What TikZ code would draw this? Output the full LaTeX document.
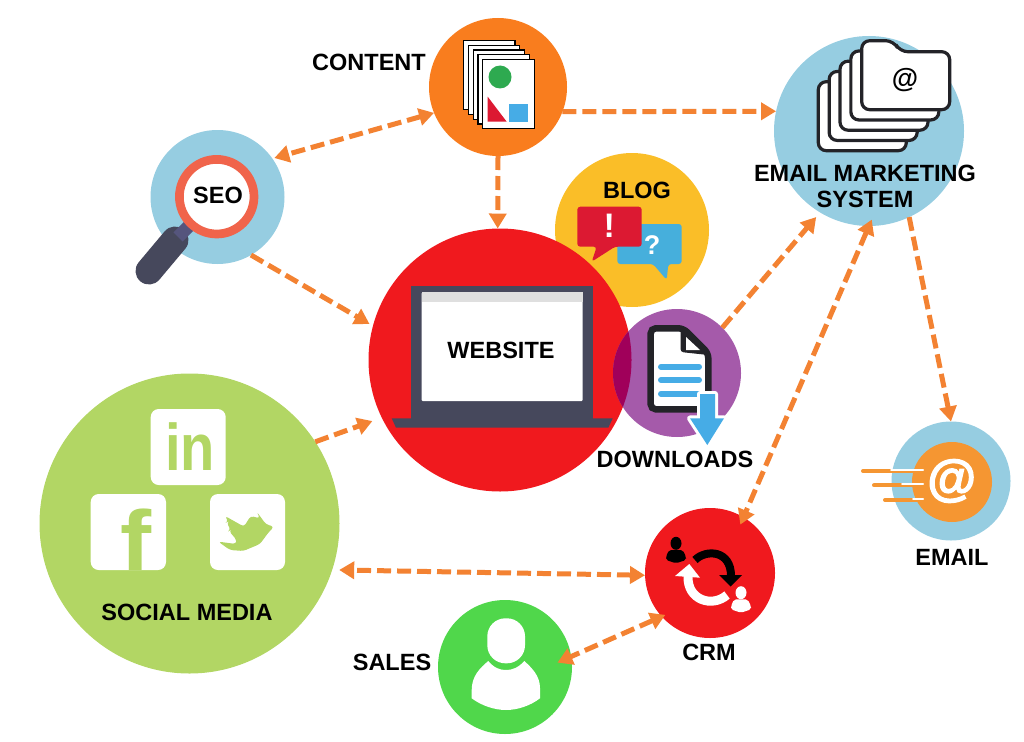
\documentclass[tikz,border=0pt]{standalone}
\usepackage{fontspec}
\setmainfont{Liberation Sans}
\newfontfamily\heavyfont[FakeBold=2.5]{Liberation Sans}
\usetikzlibrary{arrows.meta,calc}
\definecolor{flowOrange}{RGB}{243,130,50}
\definecolor{discOrange}{RGB}{249,125,30}
\definecolor{discBlue}{RGB}{150,205,225}
\definecolor{discYellow}{RGB}{250,190,40}
\definecolor{discRed}{RGB}{240,25,30}
\definecolor{discPurple}{RGB}{165,90,170}
\definecolor{discOlive}{RGB}{178,214,100}
\definecolor{discGreen}{RGB}{80,215,75}
\definecolor{overlapRed}{RGB}{160,0,90}
\definecolor{slate}{RGB}{70,72,92}
\definecolor{neckSlate}{RGB}{85,85,125}
\definecolor{inkBlack}{RGB}{35,35,40}
\definecolor{iconBlue}{RGB}{70,172,230}
\definecolor{iconRed}{RGB}{220,25,50}
\definecolor{iconGreen}{RGB}{46,170,80}
\definecolor{bubbleBlue}{RGB}{70,175,220}
\definecolor{ringRed}{RGB}{240,100,75}
\definecolor{atOrange}{RGB}{245,150,50}
\tikzset{
  disc/.style={circle, inner sep=0pt, outer sep=0pt},
  caption/.style={inner sep=0pt, align=center, text=black, font=\fontsize{23.5}{26}\selectfont\bfseries},
  flow/.style={flowOrange, line width=5pt, dash pattern=on 14pt off 6pt},
  oneway/.style={flow, -{Triangle[length=15pt,width=17pt]}},
  bothway/.style={flow, {Triangle[length=15pt,width=17pt]}-{Triangle[length=15pt,width=17pt]}},
  socialbox/.style={fill=white, rounded corners=8pt}
}
\begin{document}
\begin{tikzpicture}[x=1pt,y=-1pt]
  \useasboundingbox (0,0) rectangle (1024,741);

  % Circles
  \node[disc, fill=discYellow, minimum size=154pt] (blog) at (632,230) {};
  \node[disc, fill=discRed, minimum size=263pt] (website) at (500,360) {};
  \node[disc, fill=discPurple, minimum size=128pt] (downloads) at (677,373) {};
  \node[disc, fill=discOrange, minimum size=138pt] (content) at (498,87) {};
  \node[disc, fill=discBlue, minimum size=190pt] (ems) at (869,131) {};
  \node[disc, fill=discBlue, minimum size=134pt] (seo) at (217.5,197) {};
  \node[disc, fill=discOlive, minimum size=300pt] (social) at (189.5,523.5) {};
  \node[disc, fill=discRed, minimum size=130pt] (crm) at (710,573) {};
  \node[disc, fill=discGreen, minimum size=134pt] (sales) at (505,667) {};
  \node[disc, fill=discBlue, minimum size=119pt] (email) at (951,481) {};
  \node[disc, fill=atOrange, minimum size=80pt] (emailcore) at (952,482) {};
  \begin{scope}
    \clip (677,373) circle (64pt);
    \fill[overlapRed] (500,360) circle (131.5pt);
  \end{scope}

  % Pages
  \foreach \i in {0,...,4}
    \draw[black, line width=1.2pt, fill=white] (463.5+4.8*\i,40.5+4.8*\i) rectangle ++(51.5,69);
  \fill[iconGreen] (500,77) circle (11.5pt);
  \fill[iconRed] (487.7,96.7) -- (487.7,121.7) -- (506.7,121.7) -- cycle;
  \fill[iconBlue] (509.3,104) rectangle (528.3,122.3);

  % Folders
  \foreach \i in {0,...,4}
    \draw[inkBlack, line width=3.2pt, fill=white, rounded corners=8pt, shift={(818.3+10.85*\i,81.7-10.25*\i)}]
      (0,0) -- (32,0) -- (38,11) -- (88,11) -- (88,69) -- (0,69) -- cycle;
  \node[inner sep=0pt, font=\fontsize{27}{27}\selectfont\bfseries] (folderat) at (905,80) {@};

  % Speech bubbles
  \fill[bubbleBlue, rounded corners=3pt] (617.3,224) -- (681.7,224) -- (681.7,264) -- (668.3,264) -- (666.7,280) -- (653,264) -- (617.3,264) -- cycle;
  \fill[iconRed, rounded corners=3pt] (577.3,206.7) -- (641.7,206.7) -- (641.7,246.7) -- (615,246.7) -- (591.7,261.7) -- (596.7,246.7) -- (577.3,246.7) -- cycle;
  \node[inner sep=0pt, text=white, font=\fontsize{34}{34}\selectfont\bfseries] (bang) at (609.3,226) {!};
  \node[inner sep=0pt, text=white, font=\fontsize{27}{27}\selectfont\bfseries] (query) at (652,245) {?};

  % Magnifier
  \draw[slate, line width=27pt, line cap=round] (175,240) -- (149,271);
  \draw[neckSlate, line width=13pt] (178,237) -- (195,220);
  \draw[ringRed, line width=8.7pt, fill=white] (216.7,196.7) circle (37.3pt);

  % Laptop
  \fill[slate] (410.7,285.7) rectangle (593.3,418.5);
  \fill[slate] (391.7,418.3) -- (612.7,418.3) -- (608.3,427.7) -- (396,427.7) -- cycle;
  \fill[white, rounded corners=1pt] (421.7,292.3) rectangle (582.7,401);
  \fill[gray!25] (421.7,292.3) rectangle (582.7,301.7);

  % Document with download arrow
  \draw[inkBlack, line width=6.5pt, fill=white, rounded corners=5pt] (650.7,328.3) -- (683.3,328.3) -- (708.3,353.3) -- (708.3,409.3) -- (650.7,409.3) -- cycle;
  \fill[inkBlack, rounded corners=3pt] (680.5,328.3) -- (680.5,352) -- (708.3,355) -- cycle;
  \fill[white] (686,337) -- (686,350) -- (700,350) -- cycle;
  \foreach \y in {366.7,380,393.7}
    \draw[iconBlue, line width=6pt, line cap=round] (661,\y) -- (699,\y);
  \draw[white, line width=6pt, line join=round, fill=white] (700,394) -- (715,394) -- (715,418.3) -- (724,418.3) -- (707.3,445) -- (690,418.3) -- (700,418.3) -- cycle;
  \fill[iconBlue] (700,394) -- (715,394) -- (715,418.3) -- (724,418.3) -- (707.3,445) -- (690,418.3) -- (700,418.3) -- cycle;

  % Social boxes
  \fill[socialbox] (150.7,409) rectangle (225.7,485);
  \fill[socialbox] (90.7,494) rectangle (166,570);
  \fill[socialbox] (210,494) rectangle (285,570);
  \node[inner sep=0pt, anchor=base, text=discOlive, transform shape, xscale=.85, font=\fontsize{66}{66}\selectfont\bfseries] (linkedin) at (190,470.7) {in};
  \node[inner sep=0pt, anchor=base, text=discOlive, transform shape, xscale=1.1, font=\fontsize{85}{85}\selectfont\bfseries] (facebook) at (136,570) {f};
  \begin{scope}[shift={(60,390)},x=0.3333pt,y=-0.3333pt]
    \fill[discOlive, rounded corners=3pt] (642,410) -- (618,403) -- (590,365) -- (600,385) -- (572,378) -- (552,410)
      -- (495,378) -- (505,395) -- (500,397) -- (512,420) -- (507,423) -- (530,450) -- (528,462) -- (475,455) -- (510,480) -- (550,483) -- (600,462) -- (625,428) -- cycle;
  \end{scope}

  % CRM people and turning arrows
  \foreach \dx/\dy/\c in {0/0/black,65/49.4/white} {
    \fill[\c] (676+\dx,543.3+\dy) ellipse (5.5pt and 6.5pt);
    \fill[\c, rounded corners=2pt] (669+\dx,550+\dy) -- (682.7+\dx,550+\dy) -- (686+\dx,556.7+\dy) -- (686+\dx,560+\dy) -- (676+\dx,563.3+\dy) -- (666+\dx,560+\dy) -- (666+\dx,556.7+\dy) -- cycle;
  }
  \draw[black, line width=8pt] (695,560) .. controls (706,549) and (731,550) .. (731,576);
  \fill[black] (719,575) -- (742,575) -- (730.7,586.5) -- cycle;
  \draw[white, line width=9pt] (727,595) .. controls (712,608) and (687,600) .. (688,576);
  \fill[white] (675,576) -- (700,577.7) -- (689.3,564) -- cycle;

  % Sales person
  \fill[white, rounded corners=18pt] (487.3,618.3) rectangle (525,663.3);
  \fill[white] (488.3,661) .. controls (480,668) and (471.7,676) .. (471.7,690) -- (471.7,698.3)
    .. controls (482,706) and (495,710) .. (506,710) .. controls (517,710) and (530,706) .. (540,698.3) -- (540,688)
    .. controls (540,676) and (532,668) .. (524.3,661) .. controls (518,668) and (512,670) .. (506,670) .. controls (500,670) and (494,668) .. (488.3,661) -- cycle;

  % Email speed lines and at sign
  \foreach \xs/\y in {863/471,874/485.3,885/500} {
    \draw[atOrange, line width=4pt, line cap=round] (\xs,\y) -- (923,\y);
    \draw[white, line width=2pt, line cap=round] (\xs+28,\y-1) -- (923,\y-1);
  }
  \node[inner sep=0pt, text=white, font=\fontsize{50}{50}\heavyfont\bfseries] (emailat) at (951.7,481) {@};

  % Connectors
  \draw[bothway, shorten >=2pt] (content.202) -- (seo.35);
  \draw[oneway] (content.-21) -- (ems.168);
  \draw[oneway] (content.-90) -- (website.91);
  \draw[oneway, shorten >=4pt] (seo.-60) -- (website.165);
  \draw[oneway, shorten >=10pt] (social.33) -- (website.206);
  \draw[oneway, shorten >=6pt] (downloads.45) -- (ems.239);
  \draw[bothway, shorten <=-7pt, shorten >=-8pt] (ems.-90) -- (crm.59);
  \draw[oneway] (ems.-65) -- (email.90);
  \draw[bothway, shorten >=7pt] (crm.182) -- (social.-18);
  \draw[bothway, shorten >=-15pt, shorten <=-4pt] (crm.222) -- (sales.9);

  % Labels
  \node[caption] (contentlabel) at (369,62) {CONTENT};
  \node[caption] (seolabel) at (218,195) {SEO};
  \node[caption] (bloglabel) at (637,190) {BLOG};
  \node[caption] (websitelabel) at (501,350) {WEBSITE};
  \node[caption] (downloadslabel) at (675,459) {DOWNLOADS};
  \node[caption] (emslabel) at (865,186) {EMAIL MARKETING\\SYSTEM};
  \node[caption] (emaillabel) at (952,557) {EMAIL};
  \node[caption] (sociallabel) at (187,612) {SOCIAL MEDIA};
  \node[caption] (crmlabel) at (709,652) {CRM};
  \node[caption] (saleslabel) at (392,662) {SALES};
\end{tikzpicture}
\end{document}
